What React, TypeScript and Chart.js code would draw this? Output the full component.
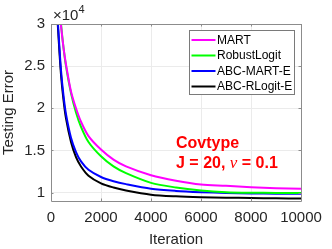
import React, { useEffect, useRef } from "react";
import { Chart, registerables } from "chart.js";

Chart.register(...registerables);

// Iterations sampled along each curve
const iterations = [100, 200, 300, 400, 500, 600, 800, 1000, 1200, 1500, 2000, 2500, 3000, 4000, 5000, 6000, 7000, 8000, 9000, 10000];

// Testing error in units of 10^4
const martErr = [5.0, 4.0, 3.3, 2.98, 2.72, 2.52, 2.2, 2.0, 1.84, 1.67, 1.51, 1.39, 1.31, 1.205, 1.14, 1.095, 1.08, 1.063, 1.052, 1.045];
const robustErr = [5.1, 4.05, 3.35, 3.0, 2.72, 2.5, 2.18, 1.95, 1.78, 1.6, 1.43, 1.31, 1.23, 1.115, 1.06, 1.025, 1.005, 0.998, 0.996, 0.995];
const abcMartErr = [4.5, 3.45, 2.9, 2.45, 2.15, 1.93, 1.65, 1.48, 1.37, 1.27, 1.185, 1.135, 1.1, 1.046, 1.02, 1.005, 0.995, 0.99, 0.987, 0.985];
const abcRLogitErr = [4.5, 3.4, 2.85, 2.4, 2.1, 1.88, 1.6, 1.42, 1.31, 1.2, 1.11, 1.06, 1.025, 0.975, 0.955, 0.945, 0.94, 0.935, 0.932, 0.93];

const seriesLabels = ["MART", "RobustLogit", "ABC-MART-E", "ABC-RLogit-E"];
const seriesColors = ["#ff00ff", "#00ff00", "#0000ff", "#000000"];
const seriesValues = [martErr, robustErr, abcMartErr, abcRLogitErr];

const yTicks = [1, 1.5, 2, 2.5, 3];
const xTicks = [0, 2000, 4000, 6000, 8000, 10000];

const FONT = "'Liberation Sans', Arial, Helvetica, sans-serif";
const TEXT = "#262626";
const AXIS = "#8c8c8c";

const overlay = {
  id: "overlay",
  afterDraw(chart: any) {
    const { ctx, chartArea: a } = chart;
    const xs = chart.scales.x;
    const ys = chart.scales.y;
    ctx.save();
    // box
    ctx.strokeStyle = AXIS;
    ctx.lineWidth = 1;
    ctx.beginPath();
    ctx.moveTo(a.left + 0.5, a.bottom + 0.5);
    ctx.lineTo(a.left + 0.5, a.top + 0.5);
    ctx.lineTo(a.right + 0.5, a.top + 0.5);
    ctx.lineTo(a.right + 0.5, a.bottom + 0.5);
    ctx.lineTo(a.left + 0.5, a.bottom + 0.5);
    ctx.stroke();
    // inward tick marks
    ctx.beginPath();
    xs.ticks.forEach((t: any) => {
      const px = Math.round(xs.getPixelForValue(t.value)) + 0.5;
      ctx.moveTo(px, a.bottom);
      ctx.lineTo(px, a.bottom - 2.5);
      ctx.moveTo(px, a.top);
      ctx.lineTo(px, a.top + 2.5);
    });
    ys.ticks.forEach((t: any) => {
      const py = Math.round(ys.getPixelForValue(t.value)) + 0.5;
      ctx.moveTo(a.left, py);
      ctx.lineTo(a.left + 2.5, py);
      ctx.moveTo(a.right, py);
      ctx.lineTo(a.right - 2.5, py);
    });
    ctx.stroke();

    // x10^4 exponent
    ctx.fillStyle = TEXT;
    ctx.textBaseline = "alphabetic";
    ctx.textAlign = "left";
    ctx.font = `15px ${FONT}`;
    ctx.fillText("\u00d710", a.left + 2, a.top - 4);
    const w = ctx.measureText("\u00d710").width;
    ctx.font = `11px ${FONT}`;
    ctx.fillText("4", a.left + 2 + w, a.top - 11);

    // legend
    const lx = 189.5, ly = 30.5, lw = 105, lh = 64;
    ctx.fillStyle = "#ffffff";
    ctx.fillRect(lx, ly, lw, lh);
    ctx.strokeStyle = "#7a7a7a";
    ctx.lineWidth = 1;
    ctx.strokeRect(lx, ly, lw, lh);
    ctx.font = `12px ${FONT}`;
    ctx.textBaseline = "middle";
    chart.data.datasets.forEach((ds: any, i: number) => {
      const ry = ly + 9.5 + i * 15.5;
      ctx.strokeStyle = ds.borderColor;
      ctx.lineWidth = 2;
      ctx.beginPath();
      ctx.moveTo(lx + 2, ry);
      ctx.lineTo(lx + 26, ry);
      ctx.stroke();
      ctx.fillStyle = "#000000";
      ctx.fillText(ds.label, lx + 27.5, ry + 0.5);
    });

    // annotation
    ctx.fillStyle = "#ff0000";
    ctx.textBaseline = "middle";
    const tx = 176;
    ctx.font = `bold 16px ${FONT}`;
    ctx.fillText("Covtype", tx, 144);
    let cx = tx;
    const parts: [string, string][] = [
      ["J = 20, ", `bold 16px ${FONT}`],
      ["\u03bd", `italic 17px 'Liberation Serif', 'Times New Roman', serif`],
      [" = 0.1", `bold 16px ${FONT}`],
    ];
    parts.forEach(([s, f]) => {
      ctx.font = f;
      ctx.fillText(s, cx, 164);
      cx += ctx.measureText(s).width;
    });
    ctx.restore();
  },
};

export default function App() {
  const ref = useRef<HTMLCanvasElement | null>(null);
  useEffect(() => {
    if (!ref.current) return;
    const chart = new Chart(ref.current, {
      type: "line",
      data: {
        datasets: seriesValues.map((vals, i) => ({
          label: seriesLabels[i],
          data: iterations.map((it, j) => ({ x: it, y: vals[j] })),
          borderColor: seriesColors[i],
          backgroundColor: seriesColors[i],
          borderWidth: 2,
          pointRadius: 0,
          tension: 0.3,
          fill: false,
        })),
      },
      options: {
        animation: false,
        responsive: false,
        maintainAspectRatio: false,
        layout: { padding: { top: 24, right: 31, left: 0, bottom: 0 } },
        plugins: { legend: { display: false }, tooltip: { enabled: false } },
        scales: {
          x: {
            type: "linear",
            min: 0,
            max: 10000,
            afterBuildTicks: (s: any) => { s.ticks = xTicks.map((v) => ({ value: v })); },
            ticks: { color: TEXT, font: { family: FONT, size: 15 }, padding: 8, maxRotation: 0, autoSkip: false, callback: (v: any) => String(v) },
            grid: { color: "#ebebeb", drawTicks: false },
            border: { display: false },
            title: { display: true, text: "Iteration", color: TEXT, font: { family: FONT, size: 15 }, padding: { top: 2, bottom: 0 } },
            afterFit: (s: any) => { s.height = 48; },
          },
          y: {
            type: "linear",
            min: 0.9,
            max: 3,
            afterBuildTicks: (s: any) => { s.ticks = yTicks.map((v) => ({ value: v })); },
            ticks: { color: TEXT, font: { family: FONT, size: 15 }, padding: 6, callback: (v: any) => String(v) },
            grid: { color: "#ebebeb", drawTicks: false },
            border: { display: false },
            title: { display: true, text: "Testing Error", color: TEXT, font: { family: FONT, size: 15 }, padding: { top: 0, bottom: 2 } },
            afterFit: (s: any) => { s.width = 51; },
          },
        },
      },
      plugins: [overlay],
    });
    return () => chart.destroy();
  }, []);
  return (
    <div style={{ position: "absolute", left: 0, top: 0, width: 332, height: 249, background: "#fff" }}>
      <canvas ref={ref} width={332} height={249} style={{ width: 332, height: 249 }} />
    </div>
  );
}
